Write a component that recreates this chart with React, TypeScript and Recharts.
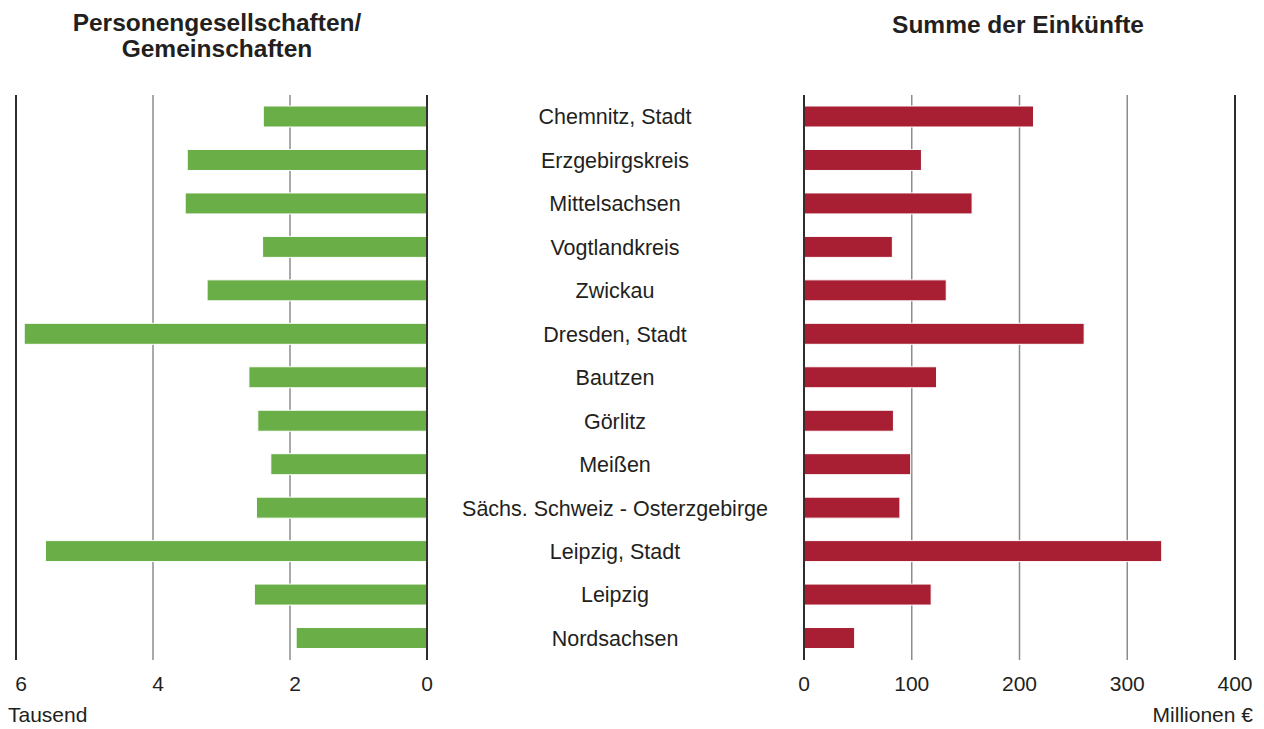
import { Bar, BarChart, CartesianGrid, ReferenceLine, XAxis, YAxis } from "recharts";

const regions = [
  "Chemnitz, Stadt",
  "Erzgebirgskreis",
  "Mittelsachsen",
  "Vogtlandkreis",
  "Zwickau",
  "Dresden, Stadt",
  "Bautzen",
  "Görlitz",
  "Meißen",
  "Sächs. Schweiz - Osterzgebirge",
  "Leipzig, Stadt",
  "Leipzig",
  "Nordsachsen",
];
// Personengesellschaften/Gemeinschaften, Tausend
const personen = [2.39, 3.5, 3.53, 2.4, 3.21, 5.88, 2.6, 2.47, 2.28, 2.49, 5.57, 2.52, 1.91];
// Summe der Einkünfte, Millionen €
const einkuenfte = [213, 109, 156, 82, 132, 260, 123, 83, 99, 89, 332, 118, 47];
const leftTicks = [0, 2, 4, 6];
const rightTicks = [0, 100, 200, 300, 400];

const data = regions.map((region, i) => ({
  region,
  personen: personen[i],
  einkuenfte: einkuenfte[i],
}));

const W = 1264;
const H = 729;
const FONT = "'Liberation Sans', Arial, sans-serif";
const TEXT = "#231f20";
const GREEN = "#69ae46";
const RED = "#a81e33";
const GRID = "#8c8c8c";
const DARK = "#231f20";

const TOP = 95;
const AXIS_H = 40;
const BOTTOM = H - 660 - AXIS_H; // plot ends at y=660

const XTick = (props: any) => {
  const { x, y, payload, shift } = props;
  const dx = shift && payload.value !== 0 ? 5 : 0;
  return (
    <text x={x + dx} y={y} dy={23} textAnchor="middle" fill={TEXT} fontSize={21} fontFamily={FONT}>
      {payload.value}
    </text>
  );
};

const CategoryTick = (props: any) => {
  const { y, payload } = props;
  return (
    <text x={615} y={y} dy="0.355em" textAnchor="middle" fill={TEXT} fontSize={21.5} fontFamily={FONT}>
      {payload.value}
    </text>
  );
};

export default function App() {
  return (
    <div style={{ position: "absolute", left: 0, top: 0, width: W, height: H, background: "#fff", fontFamily: FONT, color: TEXT }}>
      <div style={{ position: "absolute", left: 17, width: 400, top: 10, textAlign: "center", fontWeight: "bold", fontSize: 24.5, lineHeight: "26px" }}>
        Personengesellschaften/
        <br />
        Gemeinschaften
      </div>
      <div style={{ position: "absolute", left: 818, width: 400, top: 12, textAlign: "center", fontWeight: "bold", fontSize: 24.5, lineHeight: "26px" }}>
        Summe der Einkünfte
      </div>
      <div style={{ position: "absolute", left: 8, top: 703, fontSize: 21, lineHeight: "24px" }}>Tausend</div>
      <div style={{ position: "absolute", right: 11, top: 703, fontSize: 21, lineHeight: "24px" }}>Millionen €</div>

      <div style={{ position: "absolute", left: 0, top: 0 }}>
        <BarChart
          width={W}
          height={H}
          data={data}
          layout="vertical"
          margin={{ top: TOP, bottom: BOTTOM, left: 16, right: W - 804 }}
          barCategoryGap={0}
        >
          <CartesianGrid horizontal={false} stroke={GRID} strokeWidth={1.5} />
          <XAxis
            type="number"
            dataKey="personen"
            domain={[0, 6]}
            ticks={leftTicks}
            reversed
            axisLine={false}
            tickLine={false}
            height={AXIS_H}
            tick={<XTick shift />}
          />
          <YAxis
            type="category"
            dataKey="region"
            orientation="right"
            width={377}
            axisLine={false}
            tickLine={false}
            interval={0}
            tick={<CategoryTick />}
          />
          <ReferenceLine x={0} stroke={DARK} strokeWidth={1.8} />
          <ReferenceLine x={6} stroke={DARK} strokeWidth={1.8} />
          <Bar dataKey="personen" fill={GREEN} barSize={21} stroke="#fff" strokeWidth={1} isAnimationActive={false} />
        </BarChart>
      </div>

      <div style={{ position: "absolute", left: 0, top: 0 }}>
        <BarChart
          width={W}
          height={H}
          data={data}
          layout="vertical"
          margin={{ top: TOP, bottom: BOTTOM, left: 804, right: W - 1235 }}
          barCategoryGap={0}
        >
          <CartesianGrid horizontal={false} stroke={GRID} strokeWidth={1.5} />
          <XAxis
            type="number"
            dataKey="einkuenfte"
            domain={[0, 400]}
            ticks={rightTicks}
            axisLine={false}
            tickLine={false}
            height={AXIS_H}
            tick={<XTick />}
          />
          <YAxis type="category" dataKey="region" hide />
          <ReferenceLine x={0} stroke={DARK} strokeWidth={1.8} />
          <ReferenceLine x={400} stroke={DARK} strokeWidth={1.8} />
          <Bar dataKey="einkuenfte" fill={RED} barSize={21} stroke="#fff" strokeWidth={1} isAnimationActive={false} />
        </BarChart>
      </div>
    </div>
  );
}
